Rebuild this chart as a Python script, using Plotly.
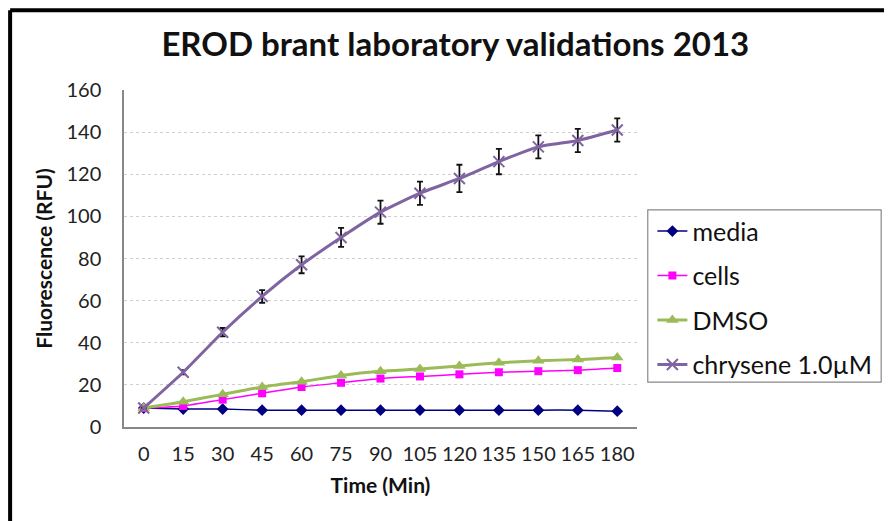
import plotly.graph_objects as go

time_min = ["0", "15", "30", "45", "60", "75", "90", "105", "120", "135", "150", "165", "180"]
media = [9, 8.5, 8.5, 8, 8, 8, 8, 8, 8, 8, 8, 8, 7.5]
cells = [9, 10, 13, 16, 19, 21, 23, 24, 25, 26, 26.5, 27, 28]
dmso = [9, 12, 15.5, 19, 21.5, 24.5, 26.5, 27.5, 29, 30.5, 31.5, 32, 33]
chrysene = [9, 26, 45, 62, 77, 90, 102, 111, 118, 126, 133, 136, 141]
chrysene_err = [0.5, 1, 2, 3, 4, 4.5, 5.5, 5.5, 6.5, 6, 5.5, 5.5, 5.5]

FONT = "Lato, Open Sans, sans-serif"

fig = go.Figure()

fig.add_trace(go.Scatter(
    x=time_min, y=media, name="media", mode="lines+markers", legendgroup="a",
    line=dict(color="#000080", width=1.5, shape="spline", smoothing=0.5),
    marker=dict(symbol="diamond", size=9, color="#000080"),
))
fig.add_trace(go.Scatter(
    x=time_min, y=cells, name="cells", mode="lines+markers", legendgroup="b",
    line=dict(color="#ff00ff", width=1.5, shape="spline", smoothing=0.5),
    marker=dict(symbol="square", size=8, color="#ff00ff"),
))
fig.add_trace(go.Scatter(
    x=time_min, y=dmso, name="DMSO", mode="lines+markers", legendgroup="c",
    line=dict(color="#9bbb59", width=3, shape="spline", smoothing=0.5),
    marker=dict(symbol="triangle-up", size=11, color="#9bbb59"),
))
fig.add_trace(go.Scatter(
    x=time_min, y=chrysene, name="chrysene 1.0\u00b5M", mode="lines+markers", legendgroup="d",
    line=dict(color="#8064a2", width=3, shape="spline", smoothing=0.5),
    marker=dict(symbol="x-thin", size=11, color="#8064a2",
                line=dict(color="#8064a2", width=2)),
    error_y=dict(type="data", array=chrysene_err, visible=True,
                 color="#111111", thickness=1.8, width=3),
))

# frame lines of the original chart area (left and top)
fig.add_shape(type="line", xref="paper", yref="paper",
              x0=-0.222, x1=-0.222, y0=-0.4, y1=1.237,
              line=dict(color="black", width=4))
fig.add_shape(type="line", xref="paper", yref="paper",
              x0=-0.222, x1=1.6, y0=1.237, y1=1.237,
              line=dict(color="black", width=4))
# legend box
fig.add_shape(type="rect", xref="paper", yref="paper",
              x0=1.021, x1=1.476, y0=0.133, y1=0.644,
              line=dict(color="#888888", width=1.2), fillcolor="white", layer="below")

fig.update_layout(
    width=884, height=513,
    paper_bgcolor="white", plot_bgcolor="white",
    margin=dict(l=116, r=255, t=82, b=94),
    font=dict(family=FONT, color="#222222", size=20),
    title=dict(text="<b>EROD brant laboratory validations 2013</b>",
               x=0.506, xanchor="center", y=0.928, yanchor="middle",
               font=dict(size=33, color="#111111")),
    showlegend=True,
    legend=dict(x=1.03, xanchor="left", y=0.649, yanchor="top",
                bgcolor="rgba(0,0,0,0)", font=dict(size=25, color="#111111"),
                tracegroupgap=9, itemwidth=30),
    hovermode=False,
)

fig.update_xaxes(
    type="category", range=[-0.5, 12.5],
    showline=True, linecolor="#888888", linewidth=1.5,
    ticks="", showgrid=False,
    tickfont=dict(size=20, color="#222222"),
    ticklabelstandoff=8,
    title=dict(text="<b>Time (Min)</b>", font=dict(size=21, color="#111111"), standoff=15),
)
fig.update_yaxes(
    range=[0, 160], dtick=20,
    showline=True, linecolor="#888888", linewidth=1.5,
    ticks="", showgrid=True, gridcolor="#cfcfcf", griddash="dot", gridwidth=1,
    zeroline=False,
    tickfont=dict(size=20, color="#222222"),
    ticklabelstandoff=17,
    title=dict(text="<b>Fluorescence (RFU)</b>", font=dict(size=21, color="#111111"), standoff=8),
)

fig.write_html("out.html")
